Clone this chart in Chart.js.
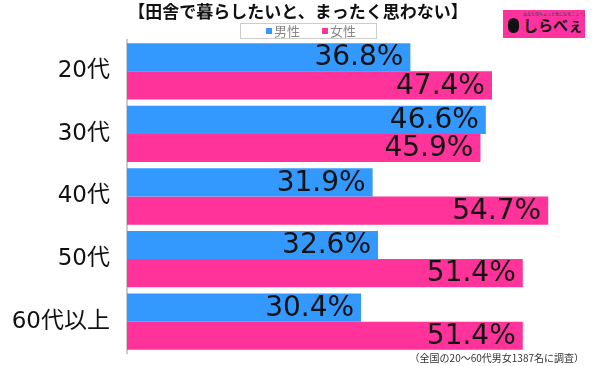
<!DOCTYPE html>
<html>
<head>
<meta charset="utf-8">
<script src="https://cdn.jsdelivr.net/npm/chart.js@4/dist/chart.umd.min.js"></script>
<style>
  body { margin: 0; background: #fff; }
  #wrap { position: relative; width: 600px; height: 366px; }
  #logo { position: absolute; left: 503px; top: 10px; width: 82px; height: 28px; background: #ff33a0; overflow: hidden; }
  #logo .sub { position: absolute; left: 20px; top: 1px; font: 4px "Noto Sans CJK JP"; color: #333; white-space: nowrap; }
  #logo .dot { position: absolute; left: 5px; top: 8px; width: 11px; height: 15px; border-radius: 6px 6px 6px 6px; background: #111; }
  #logo .main { position: absolute; left: 20px; top: 5px; font: bold 15px "Noto Sans CJK JP"; color: #111; line-height: 20px; white-space: nowrap; }
</style>
</head>
<body>
<div id="wrap">
  <canvas id="chart" width="600" height="366"></canvas>
  <div id="logo"><span class="sub">あなたのちょっと気になるニュースサイト</span><span class="dot"></span><span class="main">しらべぇ</span></div>
</div>
<script>
var categories = ["20代", "30代", "40代", "50代", "60代以上"]
var male = [36.8, 46.6, 31.9, 32.6, 30.4]
var female = [47.4, 45.9, 54.7, 51.4, 51.4]
var seriesNames = ["男性", "女性"]
var title = "【田舎で暮らしたいと、まったく思わない】"
var note = "（全国の20～60代男女1387名に調査）"

var font = '"Noto Sans CJK JP", "Noto Sans", sans-serif'
var numFont = '"DejaVu Sans", "Noto Sans CJK JP", sans-serif'

var decor = {
  id: 'decor',
  afterDraw: function (chart) {
    var ctx = chart.ctx
    ctx.save()
    // title
    ctx.fillStyle = '#111'
    ctx.font = 'bold 17px ' + font
    ctx.textAlign = 'center'
    ctx.textBaseline = 'middle'
    ctx.fillText(title, 298, 12)
    // legend box
    ctx.strokeStyle = '#ccc'
    ctx.lineWidth = 1
    ctx.strokeRect(240.5, 23.5, 136, 15)
    ctx.font = '13px ' + font
    ctx.textAlign = 'left'
    var xs = [266, 322]
    chart.data.datasets.forEach(function (ds, i) {
      ctx.fillStyle = ds.backgroundColor
      ctx.fillRect(xs[i], 28, 6, 6)
      ctx.fillStyle = '#888'
      ctx.fillText(ds.label, xs[i] + 8, 31)
    })
    // note
    ctx.fillStyle = '#333'
    ctx.font = '10px ' + font
    ctx.textAlign = 'right'
    ctx.fillText(note, 584, 358)
    ctx.restore()
  },
  afterDatasetsDraw: function (chart) {
    var ctx = chart.ctx
    ctx.save()
    ctx.fillStyle = '#111'
    ctx.font = '28px ' + numFont
    ctx.textAlign = 'right'
    ctx.textBaseline = 'middle'
    chart.data.datasets.forEach(function (ds, i) {
      chart.getDatasetMeta(i).data.forEach(function (bar, j) {
        ctx.fillText(ds.data[j].toFixed(1) + '%', bar.x - 7, bar.y + 1)
      })
    })
    ctx.restore()
  }
}

new Chart(document.getElementById('chart'), {
  type: 'bar',
  data: {
    labels: categories,
    datasets: [
      { label: seriesNames[0], data: male, backgroundColor: '#3399ff' },
      { label: seriesNames[1], data: female, backgroundColor: '#ff3399' }
    ]
  },
  options: {
    indexAxis: 'y',
    responsive: false,
    animation: false,
    categoryPercentage: 0.9,
    barPercentage: 1,
    layout: { padding: { top: 40, right: 11, bottom: 13, left: 0 } },
    plugins: { legend: { display: false }, title: { display: false }, tooltip: { enabled: false } },
    scales: {
      x: { min: 0, max: 60, display: false },
      y: {
        grid: { display: false },
        border: { display: true, color: '#ccc', width: 2 },
        ticks: { color: '#111', font: { size: 23, family: numFont }, padding: 9 },
        afterFit: function (s) { s.width = 127; s.paddingTop = 0; s.paddingBottom = 0 }
      }
    }
  },
  plugins: [decor]
})
</script>
</body>
</html>
